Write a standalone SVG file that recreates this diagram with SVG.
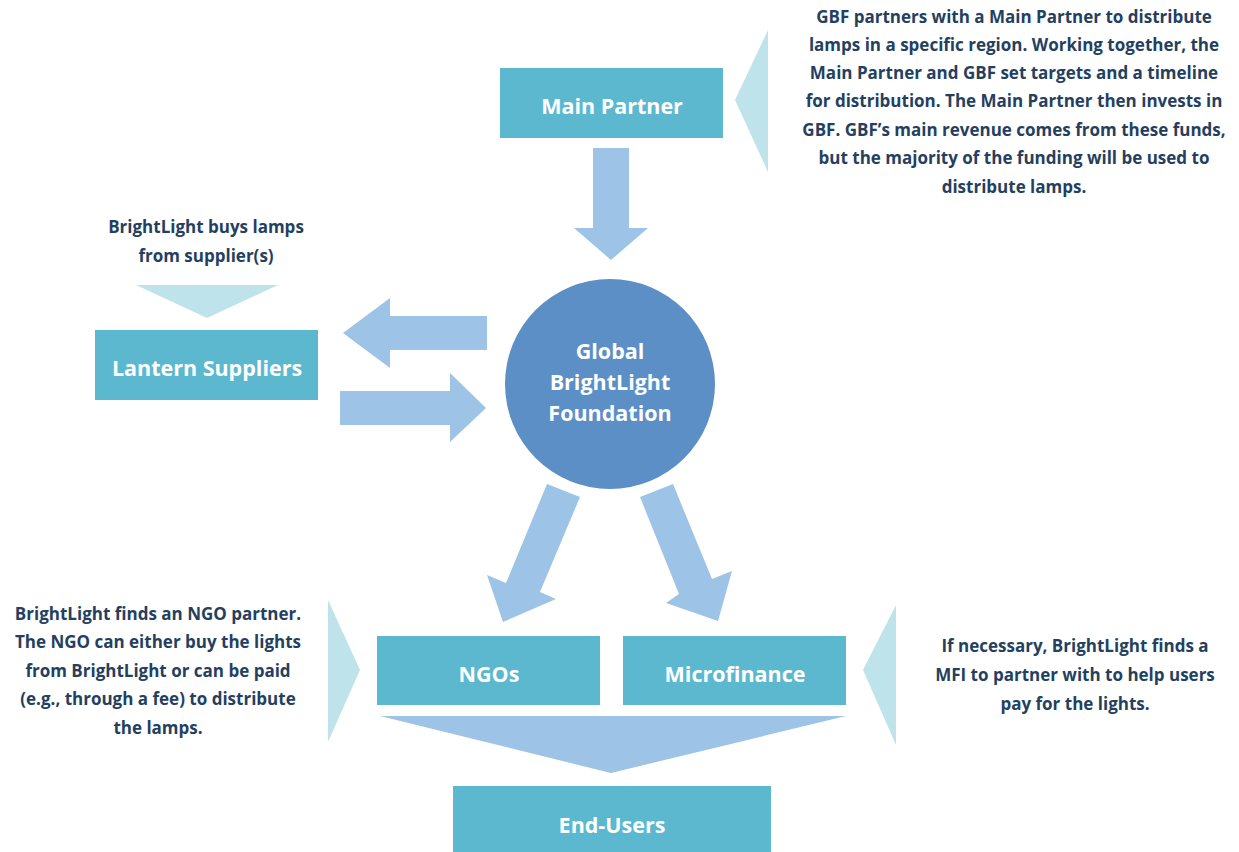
<svg xmlns="http://www.w3.org/2000/svg" width="1239" height="852" viewBox="0 0 1239 852">
<style>
.box{fill:#5BB8CF;}
.lbl{font-family:"Open Sans","Liberation Sans",sans-serif;font-weight:bold;font-size:21.5px;fill:#FFFFFF;text-anchor:middle;}
.note{font-family:"Open Sans","Liberation Sans",sans-serif;font-weight:bold;font-size:17px;fill:#243F60;text-anchor:middle;}
.tri{fill:#BEE3EA;}
.arr{fill:#9DC3E6;}
</style>
<rect width="1239" height="852" fill="#FFFFFF"/>
<g id="connectors">
  <polygon class="arr" points="593,148 629,148 629,228 648,228 611,260 574,228 593,228"/>
  <polygon class="arr" points="487,316 390,316 390,298 343,333 390,368 390,350 487,350"/>
  <polygon class="arr" points="340,391 450,391 450,373 486,408 450,442 450,425 340,425"/>
  <polygon class="arr" points="547,484 580,497 540,592 556,599 503,622 487,575 506,583"/>
  <polygon class="arr" points="640,497 673,484 712,579 732,571 718,621 666,603 679,594"/>
  <polygon class="arr" points="380,716 846,716 611,773"/>
</g>
<g id="callouts">
  <polygon class="tri" points="735,100 768,30 768,172"/>
  <polygon class="tri" points="136,285 278,285 207,318"/>
  <polygon class="tri" points="328,600 360,670 328,742"/>
  <polygon class="tri" points="863,670 896,605 896,745"/>
</g>
<g id="main-partner">
  <rect class="box" x="500" y="68" width="223" height="70"/>
  <text class="lbl" x="612" y="114">Main Partner</text>
</g>
<g id="main-partner-note">
  <text class="note" x="1014" y="23">GBF partners with a Main Partner to distribute</text>
  <text class="note" x="1014" y="51">lamps in a specific region. Working together, the</text>
  <text class="note" x="1014" y="79">Main Partner and GBF set targets and a timeline</text>
  <text class="note" x="1014" y="107">for distribution. The Main Partner then invests in</text>
  <text class="note" x="1014" y="136">GBF. GBF’s main revenue comes from these funds,</text>
  <text class="note" x="1014" y="164">but the majority of the funding will be used to</text>
  <text class="note" x="1014" y="193">distribute lamps.</text>
</g>
<g id="gbf">
  <circle cx="610" cy="384" r="105" fill="#5B8FC5"/>
  <text class="lbl" x="610" y="359">Global</text>
  <text class="lbl" x="610" y="390">BrightLight</text>
  <text class="lbl" x="610" y="421">Foundation</text>
</g>
<g id="lantern-suppliers">
  <rect class="box" x="95" y="330" width="223" height="70"/>
  <text class="lbl" x="207" y="376">Lantern Suppliers</text>
</g>
<g id="supplier-note">
  <text class="note" x="206" y="233">BrightLight buys lamps</text>
  <text class="note" x="206" y="262">from supplier(s)</text>
</g>
<g id="ngos">
  <rect class="box" x="377" y="636" width="223" height="69"/>
  <text class="lbl" x="489" y="682">NGOs</text>
</g>
<g id="microfinance">
  <rect class="box" x="623" y="636" width="223" height="69"/>
  <text class="lbl" x="735" y="682">Microfinance</text>
</g>
<g id="end-users">
  <rect class="box" x="453" y="786" width="318" height="66"/>
  <text class="lbl" x="612" y="833">End-Users</text>
</g>
<g id="ngo-note">
  <text class="note" x="158" y="620">BrightLight finds an NGO partner.</text>
  <text class="note" x="158" y="648">The NGO can either buy the lights</text>
  <text class="note" x="158" y="677">from BrightLight or can be paid</text>
  <text class="note" x="158" y="705">(e.g., through a fee) to distribute</text>
  <text class="note" x="158" y="734">the lamps.</text>
</g>
<g id="mfi-note">
  <text class="note" x="1075" y="652">If necessary, BrightLight finds a</text>
  <text class="note" x="1075" y="681">MFI to partner with to help users</text>
  <text class="note" x="1075" y="710">pay for the lights.</text>
</g>
</svg>
